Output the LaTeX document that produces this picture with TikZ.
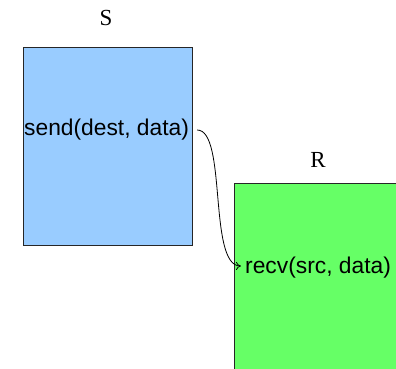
\documentclass[tikz,border=0pt]{standalone}
\usepackage{fontspec}
\setmainfont{Liberation Serif}
\setsansfont{Liberation Sans}
\usetikzlibrary{arrows.meta}
\definecolor{sendblue}{HTML}{99CCFF}
\definecolor{recvgreen}{HTML}{66FF66}
\tikzset{
  proc/.style={draw=black!85, line width=0.9pt, anchor=north west, inner sep=0pt},
  call/.style={font=\sffamily\fontsize{22.8}{26}\selectfont, inner sep=0pt, anchor=west},
  title/.style={font=\fontsize{23}{26}\selectfont, inner sep=0pt},
  msg/.style={line width=0.8pt, -{To[length=5pt,width=8pt]}}
}
\begin{document}
\begin{tikzpicture}[x=1pt,y=-1pt]
  \clip (0,0) rectangle (396,368);
  % sender process
  \node[proc, fill=sendblue, minimum width=169pt, minimum height=198pt] (S) at (23,47) {};
  \node[title] (Slabel) at (106,18) {S};
  \node[call] (send) at (24,130) {send(dest, data)};
  % receiver process, running past the page edge
  \node[proc, fill=recvgreen, minimum width=200pt, minimum height=220pt] (R) at (234,183) {};
  \node[title] (Rlabel) at (318,160) {R};
  \node[call] (recv) at (245,268) {recv(src, data)};
  % message from send to recv
  \draw[msg] ([xshift=8pt]send.east) .. controls +(30,0) and +(-33,0) .. ([xshift=-4pt,yshift=2pt]recv.west);
\end{tikzpicture}
\end{document}
